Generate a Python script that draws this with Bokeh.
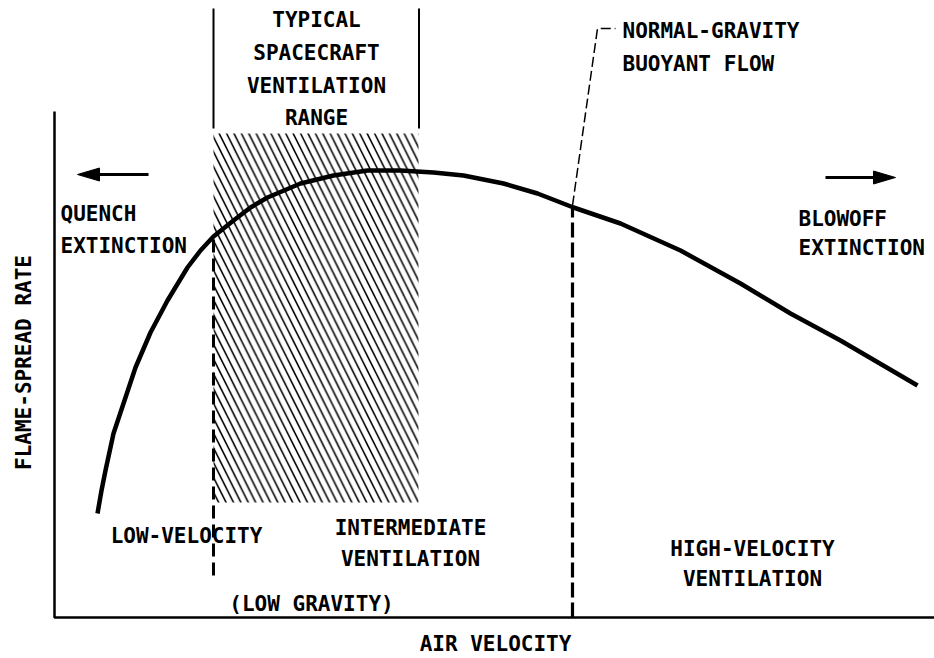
import math
from bokeh.plotting import figure
from bokeh.models import Range1d, ColumnDataSource
from bokeh.core.properties import value
from bokeh.embed import file_html
from bokeh.resources import INLINE

# ---- data (schematic units; origin at the axes corner) ----
velocity = [43, 47, 51, 59, 70, 81, 96, 113, 133, 146, 159, 179, 196, 213, 246, 279,
            313, 346, 379, 409, 449, 483, 519, 566, 626, 686, 736, 786, 863]
spread_rate = [104, 127, 147, 184, 217, 250, 285, 317, 350, 367, 381, 397, 410, 420, 434, 442,
               447, 447, 445, 442, 434, 424, 410, 394, 367, 334, 304, 277, 232]

# typical spacecraft ventilation range (hatched band)
range_left, range_right = 159, 364
range_bottom, range_top = 115, 484
bracket_bottom, bracket_top = 489, 609

# regime boundaries
low_boundary_x = 159
low_boundary_y = [42, 381]
normal_g_x = 518
normal_g_y = [0, 410]
leader_x = [518, 543, 561]
leader_y = [412, 589, 589]

# axes extents
y_axis_top = 506
x_axis_right = 880

# arrows: (tail x, tip x, y)
arrow_tail_x = [94, 771]
arrow_tip_x = [23, 841]
arrow_y = [443, 440]

FONT = value("DejaVu Sans Mono")
FS = "21px"

p = figure(width=934, height=658, output_backend="svg", toolbar_location=None,
           x_range=Range1d(-54, 880), y_range=Range1d(-41, 617),
           min_border=0, min_border_left=0, min_border_right=0,
           min_border_top=0, min_border_bottom=0)
p.axis.visible = False
p.grid.visible = False
p.outline_line_color = None
p.background_fill_color = "white"
p.border_fill_color = "white"

# hatched band
p.quad(left=[range_left], right=[range_right], bottom=[range_bottom], top=[range_top],
       fill_color=None, line_color=None, hatch_pattern="\\", hatch_color="black",
       hatch_scale=14.8, hatch_weight=1.6)

# bracket lines above the band
p.segment(x0=[range_left, range_right + 0.5], y0=[bracket_bottom] * 2,
          x1=[range_left, range_right + 0.5], y1=[bracket_top] * 2,
          line_color="black", line_width=2)

# axes
p.line(x=[0, 0, x_axis_right], y=[y_axis_top, 0, 0], line_color="black", line_width=2.5)

# dashed regime boundaries
p.line(x=[low_boundary_x] * 2, y=low_boundary_y, line_color="black", line_width=3,
       line_dash="13 6")
p.line(x=[normal_g_x] * 2, y=normal_g_y, line_color="black", line_width=3.2,
       line_dash="15 5")
p.line(x=leader_x, y=leader_y, line_color="black", line_width=1.5, line_dash="10 4")

# flame spread curve
p.line(x=velocity, y=spread_rate, line_color="black", line_width=4.5, line_join="round")

# arrows (shaft + triangular head)
head_len, head_half = 22, 6.5
shaft_x0, shaft_x1, head_xs, head_ys = [], [], [], []
for xt, xh, ya in zip(arrow_tail_x, arrow_tip_x, arrow_y):
    d = 1 if xh > xt else -1
    shaft_x0.append(xt)
    shaft_x1.append(xh - d * head_len * 0.8)
    head_xs.append([xh, xh - d * head_len, xh - d * head_len])
    head_ys.append([ya, ya + head_half, ya - head_half])
p.segment(x0=shaft_x0, y0=arrow_y, x1=shaft_x1, y1=arrow_y, line_color="black", line_width=3)
p.patches(xs=head_xs, ys=head_ys, fill_color="black", line_color="black", line_width=1)

# texts
left_texts = ColumnDataSource(dict(
    x=[568, 568, 6, 6, 744, 744],
    y=[587, 554, 404, 372, 399, 370],
    t=["NORMAL-GRAVITY", "BUOYANT FLOW", "QUENCH", "EXTINCTION", "BLOWOFF", "EXTINCTION"]))
p.text(x="x", y="y", text="t", source=left_texts, text_font=FONT, text_font_size=FS,
       text_font_style="bold", text_align="left", text_baseline="middle", text_color="black")

center_texts = ColumnDataSource(dict(
    x=[262, 262, 262, 262, 132, 356, 356, 257, 698, 698, 441],
    y=[598, 565, 532, 500, 82, 90, 59, 14, 69, 39, -26],
    t=["TYPICAL", "SPACECRAFT", "VENTILATION", "RANGE", "LOW-VELOCITY",
       "INTERMEDIATE", "VENTILATION", "(LOW GRAVITY)", "HIGH-VELOCITY",
       "VENTILATION", "AIR VELOCITY"]))
p.text(x="x", y="y", text="t", source=center_texts, text_font=FONT, text_font_size=FS,
       text_font_style="bold", text_align="center", text_baseline="middle", text_color="black")

p.text(x=[-31], y=[255], text=["FLAME-SPREAD RATE"], angle=math.pi / 2,
       text_font=FONT, text_font_size=FS, text_font_style="bold", text_align="center",
       text_baseline="middle", text_color="black")

open("out.html", "w").write(file_html(p, INLINE))
